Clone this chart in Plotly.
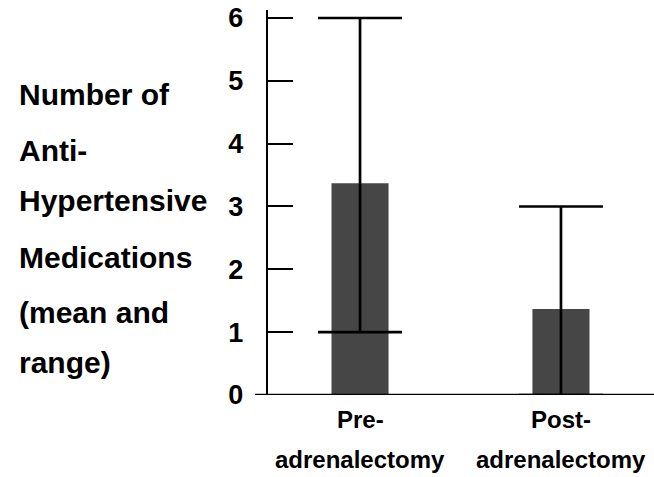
import plotly.graph_objects as go

# ---- data ----
categories = ["Pre-adrenalectomy", "Post-adrenalectomy"]
cat_line1 = ["Pre-", "Post-"]
cat_line2 = ["adrenalectomy", "adrenalectomy"]
means = [3.37, 1.37]
range_min = [1, 0]
range_max = [6, 3]
y_ticks = [0, 1, 2, 3, 4, 5, 6]
y_title_lines = ["Number of", "Anti-", "Hypertensive", "Medications", "(mean and", "range)"]

err_plus = [mx - m for mx, m in zip(range_max, means)]
err_minus = [m - mn for mn, m in zip(range_min, means)]

W, H = 654, 477
L, R, T, B = 268, 0, 10, 82
plot_h = H - T - B
plot_w = W - L - R
FONT = "Liberation Sans, Arial, Helvetica, sans-serif"


def py2paper(py):
    return (H - B - py) / plot_h


def px2paper(px):
    return (px - L) / plot_w


fig = go.Figure()
fig.add_trace(go.Bar(
    x=categories, y=means, width=0.284,
    marker=dict(color="#464646", line=dict(width=0)),
    error_y=dict(type="data", symmetric=False, array=err_plus, arrayminus=err_minus,
                 color="black", thickness=2.7, width=42),
))

annotations = []
title_centers = [95, 150, 200, 257, 312, 362]
for txt, cy in zip(y_title_lines, title_centers):
    annotations.append(dict(text="<b>%s</b>" % txt, xref="paper", yref="paper",
                            x=px2paper(17), y=py2paper(cy), xanchor="left", yanchor="middle",
                            showarrow=False, font=dict(family=FONT, size=30, color="black")))
for c, l1, l2 in zip(categories, cat_line1, cat_line2):
    annotations.append(dict(text="<b>%s</b>" % l1, xref="x", yref="paper", x=c, y=py2paper(420),
                            xanchor="center", yanchor="middle", showarrow=False,
                            font=dict(family=FONT, size=24, color="black")))
    annotations.append(dict(text="<b>%s</b>" % l2, xref="x", yref="paper", x=c, y=py2paper(459),
                            xanchor="center", yanchor="middle", showarrow=False,
                            font=dict(family=FONT, size=24, color="black")))

fig.update_layout(
    width=W, height=H,
    margin=dict(l=L, r=R, t=T, b=B, pad=0),
    paper_bgcolor="white", plot_bgcolor="white",
    showlegend=False,
    annotations=annotations,
    shapes=[dict(type="line", xref="paper", yref="y", x0=px2paper(255), x1=1, y0=0, y1=0,
                 line=dict(color="black", width=2.4), layer="above")],
    xaxis=dict(range=[-0.458, 1.463], showticklabels=False, showline=False, showgrid=False,
               zeroline=False, ticks=""),
    yaxis=dict(range=[0, 6.127], tickvals=y_ticks, ticktext=["<b>%d</b>" % v for v in y_ticks],
               tickfont=dict(family=FONT, size=27, color="black"),
               ticks="inside", ticklen=25, tickwidth=2.4, tickcolor="black",
               showline=True, linecolor="black", linewidth=2.4,
               showgrid=False, zeroline=False, ticklabelstandoff=17),
)

fig.write_html("out.html")
